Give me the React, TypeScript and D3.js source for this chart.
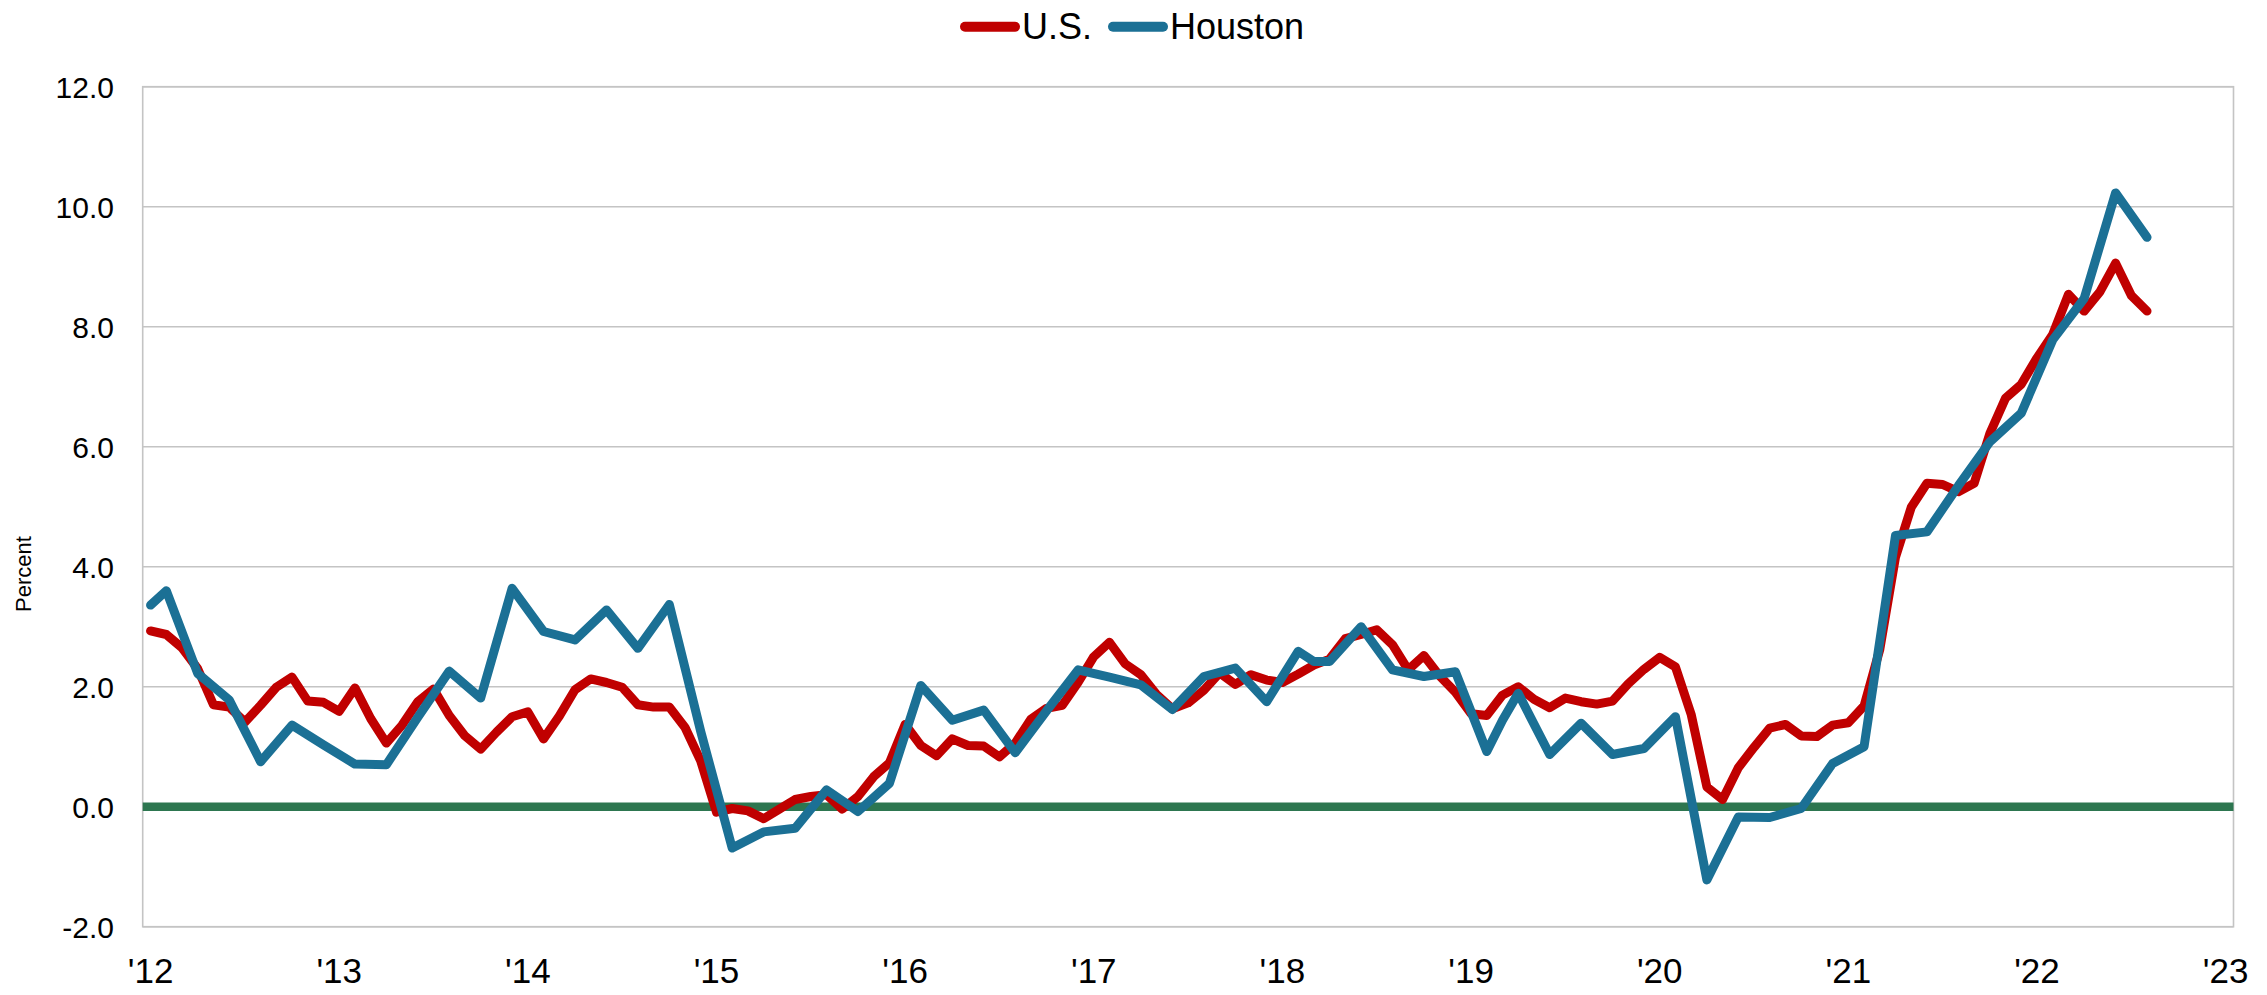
import React, { useRef, useEffect } from 'react';
import * as d3 from 'd3';

// U.S. CPI, year-over-year % change, monthly from Jan 2012
const usStart = '2012-01';
const usCpi = [
  2.93, 2.87, 2.65, 2.30, 1.70, 1.66, 1.41, 1.69, 1.99, 2.16, 1.76, 1.74,
  1.59, 1.98, 1.47, 1.06, 1.36, 1.75, 1.96, 1.52, 1.18, 0.96, 1.24, 1.50,
  1.58, 1.13, 1.51, 1.95, 2.13, 2.07, 1.99, 1.70, 1.66, 1.66, 1.32, 0.76,
  -0.09, -0.03, -0.07, -0.20, -0.04, 0.12, 0.17, 0.20, -0.04, 0.17, 0.50, 0.73,
  1.37, 1.02, 0.85, 1.13, 1.02, 1.01, 0.83, 1.06, 1.46, 1.64, 1.69, 2.07,
  2.50, 2.74, 2.38, 2.20, 1.87, 1.63, 1.73, 1.94, 2.23, 2.04, 2.20, 2.11,
  2.07, 2.21, 2.36, 2.46, 2.80, 2.87, 2.95, 2.70, 2.28, 2.52, 2.18, 1.91,
  1.55, 1.52, 1.86, 2.00, 1.79, 1.65, 1.81, 1.75, 1.71, 1.76, 2.05, 2.29,
  2.49, 2.33, 1.54, 0.33, 0.12, 0.65, 0.99, 1.31, 1.37, 1.18, 1.17, 1.36,
  1.40, 1.68, 2.62, 4.16, 4.99, 5.39, 5.37, 5.25, 5.39, 6.22, 6.81, 7.04,
  7.48, 7.87, 8.54, 8.26, 8.58, 9.06, 8.52, 8.26,
];

// Houston CPI (published mostly every other month)
const houstonMonths = [
  '2012-01', '2012-02', '2012-04', '2012-06', '2012-08', '2012-10', '2012-12',
  '2013-02', '2013-04', '2013-06', '2013-08', '2013-10', '2013-12',
  '2014-02', '2014-04', '2014-06', '2014-08', '2014-10', '2014-12',
  '2015-02', '2015-04', '2015-06', '2015-08', '2015-10', '2015-12',
  '2016-02', '2016-04', '2016-06', '2016-08', '2016-10', '2016-12',
  '2017-02', '2017-04', '2017-06', '2017-08', '2017-10', '2017-12',
  '2018-02', '2018-03', '2018-04', '2018-06', '2018-08', '2018-10', '2018-12',
  '2019-02', '2019-03', '2019-04', '2019-06', '2019-08', '2019-10', '2019-12',
  '2020-02', '2020-04', '2020-06', '2020-08', '2020-10', '2020-12',
  '2021-02', '2021-04', '2021-06', '2021-08', '2021-10', '2021-12',
  '2022-02', '2022-04', '2022-06', '2022-08',
];
const houstonCpi = [
  3.36, 3.60, 2.22, 1.78, 0.75, 1.36, 1.03,
  0.71, 0.70, 1.49, 2.26, 1.81, 3.64,
  2.92, 2.78, 3.28, 2.64, 3.37, 1.25,
  -0.69, -0.42, -0.36, 0.28, -0.08, 0.39,
  2.02, 1.44, 1.61, 0.90, 1.60, 2.28,
  2.16, 2.03, 1.62, 2.17, 2.31, 1.75,
  2.59, 2.42, 2.42, 3.00, 2.28, 2.17, 2.25,
  0.92, 1.44, 1.89, 0.87, 1.39, 0.87, 0.97,
  1.50, -1.22, -0.17, -0.18, -0.03, 0.72,
  1.00, 4.52, 4.58, 5.35, 6.08, 6.56,
  7.78, 8.47, 10.23, 9.49,
];

const yTicks = [-2, 0, 2, 4, 6, 8, 10, 12];
const yearLabels = ["'12", "'13", "'14", "'15", "'16", "'17", "'18", "'19", "'20", "'21", "'22", "'23"];

const W = 2267;
const H = 995;
const FONT = '"Liberation Sans", Arial, sans-serif';
const RED = '#c00000';
const BLUE = '#1b7095';

const App: React.FC = () => {
  const ref = useRef<SVGSVGElement | null>(null);

  useEffect(() => {
    const svg = d3.select(ref.current);
    svg.selectAll('*').remove();

    const fmt = d3.timeFormat('%Y-%m');
    const parse = d3.timeParse('%Y-%m');
    const months = d3.timeMonth.range(new Date(2012, 0, 1), new Date(2023, 1, 1)).map(fmt);

    const x = d3.scaleBand<string>().domain(months).range([142.7, 2233.5]).padding(0);
    const cx = (m: string) => (x(m) as number) + x.bandwidth() / 2;
    const y = d3.scaleLinear().domain([-2, 12]).range([926.7, 86.7]);

    const usData = usCpi.map((v, i) => ({ m: fmt(d3.timeMonth.offset(parse(usStart) as Date, i)), v }));
    const houData = houstonMonths.map((m, i) => ({ m, v: houstonCpi[i] }));

    // grid
    svg.append('g')
      .selectAll('line')
      .data(yTicks)
      .enter()
      .append('line')
      .attr('x1', 142.7)
      .attr('x2', 2233.5)
      .attr('y1', (d) => y(d))
      .attr('y2', (d) => y(d))
      .attr('stroke', '#c4c4c4')
      .attr('stroke-width', 1.6);

    svg.append('rect')
      .attr('x', 142.7)
      .attr('y', y(12))
      .attr('width', 2233.5 - 142.7)
      .attr('height', y(-2) - y(12))
      .attr('fill', 'none')
      .attr('stroke', '#c4c4c4')
      .attr('stroke-width', 1.6);

    // y labels
    svg.append('g')
      .selectAll('text')
      .data(yTicks)
      .enter()
      .append('text')
      .attr('x', 114)
      .attr('y', (d) => y(d))
      .attr('dy', '0.36em')
      .attr('text-anchor', 'end')
      .style('font-family', FONT)
      .style('font-size', '30px')
      .attr('fill', '#000')
      .text((d) => d.toFixed(1));

    svg.append('text')
      .attr('transform', `translate(31,574) rotate(-90)`)
      .attr('text-anchor', 'middle')
      .style('font-family', FONT)
      .style('font-size', '22px')
      .attr('fill', '#000')
      .text('Percent');

    // x labels
    svg.append('g')
      .selectAll('text')
      .data(yearLabels)
      .enter()
      .append('text')
      .attr('x', (_, i) => cx(months[i * 12]))
      .attr('y', 983)
      .attr('text-anchor', 'middle')
      .style('font-family', FONT)
      .style('font-size', '35px')
      .attr('fill', '#000')
      .text((d) => d);

    // zero line
    svg.append('line')
      .attr('x1', 142.7)
      .attr('x2', 2233.5)
      .attr('y1', y(0))
      .attr('y2', y(0))
      .attr('stroke', '#2d7650')
      .attr('stroke-width', 8.5);

    const line = d3.line<{ m: string; v: number }>()
      .x((d) => cx(d.m))
      .y((d) => y(d.v));

    svg.append('path')
      .datum(usData)
      .attr('d', line)
      .attr('fill', 'none')
      .attr('stroke', RED)
      .attr('stroke-width', 9)
      .attr('stroke-linejoin', 'round')
      .attr('stroke-linecap', 'round');

    svg.append('path')
      .datum(houData)
      .attr('d', line)
      .attr('fill', 'none')
      .attr('stroke', BLUE)
      .attr('stroke-width', 9)
      .attr('stroke-linejoin', 'round')
      .attr('stroke-linecap', 'round');

    // legend
    const legend = [
      { label: 'U.S.', color: RED, x: 965 },
      { label: 'Houston', color: BLUE, x: 1113 },
    ];
    const lg = svg.append('g');
    legend.forEach((d) => {
      lg.append('line')
        .attr('x1', d.x)
        .attr('x2', d.x + 50)
        .attr('y1', 26.7)
        .attr('y2', 26.7)
        .attr('stroke', d.color)
        .attr('stroke-width', 10)
        .attr('stroke-linecap', 'round');
      lg.append('text')
        .attr('x', d.x + 57)
        .attr('y', 39.3)
        .style('font-family', FONT)
        .style('font-size', '36px')
        .attr('fill', '#000')
        .text(d.label);
    });
  }, []);

  return (
    <svg
      ref={ref}
      width={W}
      height={H}
      style={{ position: 'absolute', left: 0, top: 0, background: '#fff' }}
    />
  );
};

export default App;
